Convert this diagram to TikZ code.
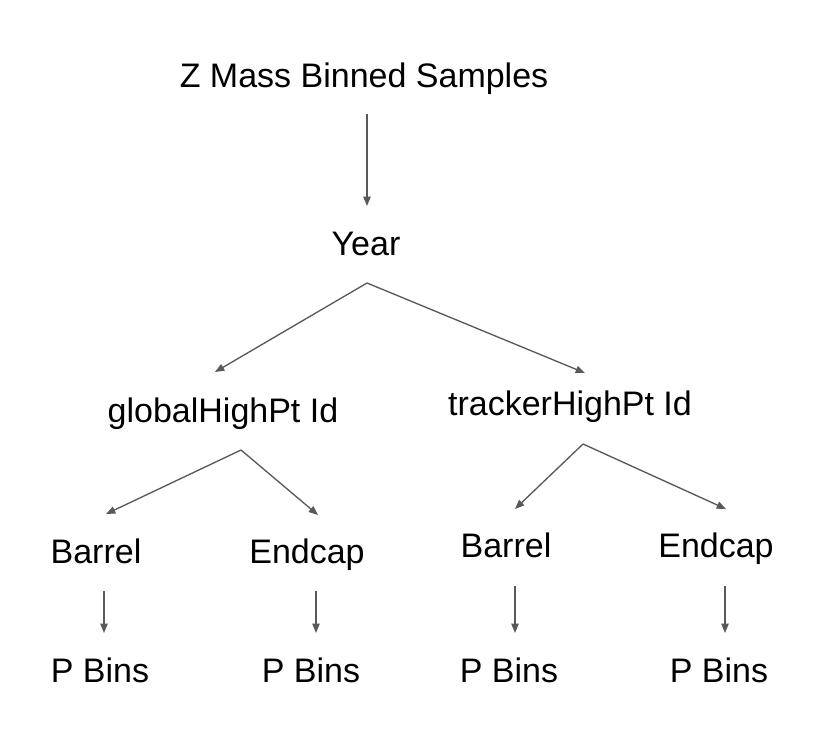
\documentclass[tikz,border=0pt]{standalone}
\usepackage{fontspec}
\setmainfont{Liberation Sans}
\usetikzlibrary{arrows.meta}
\begin{document}
\begin{tikzpicture}[x=0.75pt,y=-0.75pt,
  lbl/.style={anchor=base,inner sep=0pt,font=\fontsize{25.5}{30}\selectfont},
  conn/.style={draw=black!65,line width=1pt,-{Triangle[length=7pt,width=5.5pt]}}]
\useasboundingbox (0,0) rectangle (827,750);
% text nodes
\node[lbl] (zmass) at (364,87) {Z Mass Binned Samples};
\node[lbl] (year) at (366,255) {Year};
\node[lbl] (glob) at (223,422) {globalHighPt Id};
\node[lbl] (trk) at (570,415) {trackerHighPt Id};
\node[lbl] (gbar) at (96,563) {Barrel};
\node[lbl] (gend) at (307,563) {Endcap};
\node[lbl] (tbar) at (506,557) {Barrel};
\node[lbl] (tend) at (716,557) {Endcap};
\node[lbl] (p1) at (100,682) {P Bins};
\node[lbl] (p2) at (311,682) {P Bins};
\node[lbl] (p3) at (509,682) {P Bins};
\node[lbl] (p4) at (719,682) {P Bins};
% connector end points
\coordinate (zs) at (367,114);
\coordinate (ze) at (367,206);
\coordinate (ya) at (367,283);
\coordinate (yl) at (215,372);
\coordinate (yr) at (585,373);
\coordinate (ga) at (241,450);
\coordinate (gl) at (106,514);
\coordinate (gr) at (318,515);
\coordinate (ta) at (583,444);
\coordinate (tl) at (515,509);
\coordinate (tr) at (726,509);
\coordinate (b1s) at (104,591); \coordinate (b1e) at (104,633);
\coordinate (b2s) at (316,591); \coordinate (b2e) at (316,633);
\coordinate (b3s) at (515,586); \coordinate (b3e) at (515,633);
\coordinate (b4s) at (725,586); \coordinate (b4e) at (725,633);
% connectors
\draw[conn] (zs) -- (ze);
\draw[conn] (ya) -- (yl);
\draw[conn] (ya) -- (yr);
\draw[conn] (ga) -- (gl);
\draw[conn] (ga) -- (gr);
\draw[conn] (ta) -- (tl);
\draw[conn] (ta) -- (tr);
\draw[conn] (b1s) -- (b1e);
\draw[conn] (b2s) -- (b2e);
\draw[conn] (b3s) -- (b3e);
\draw[conn] (b4s) -- (b4e);
\end{tikzpicture}
\end{document}
